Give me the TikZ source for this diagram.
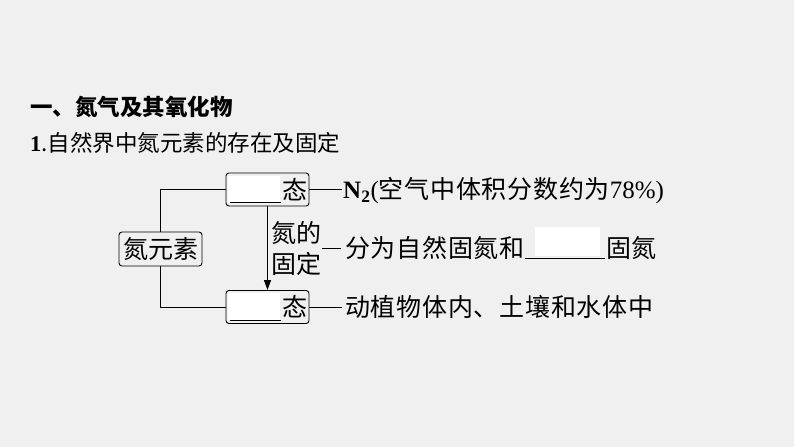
\documentclass[tikz,border=0pt]{standalone}
\usepackage{fontspec}
\setmainfont{Liberation Serif}
\newfontfamily\cjk{Noto Sans CJK SC}
\newfontfamily\cjkwide[LetterSpace=3]{Noto Sans CJK SC}
\usetikzlibrary{arrows.meta}
\definecolor{bgcol}{RGB}{240,240,240}
\tikzset{
  framebox/.style={draw, rounded corners=3pt, line width=0.9pt, minimum width=83pt, minimum height=33pt, inner sep=0pt},
  txt/.style={inner sep=0pt, font=\fontsize{25}{31}\selectfont\cjkwide},
  link/.style={line width=0.9pt},
}
\begin{document}
\begin{tikzpicture}[x=1pt,y=-1pt]
  \fill[bgcol] (0,0) rectangle (794,447);
  \useasboundingbox (0,0) rectangle (794,447);
  \node[anchor=west, inner sep=0pt, font=\fontsize{22.5}{26}\selectfont\cjk\bfseries] (title) at (30,107) {一、氮气及其氧化物};
  \node[anchor=west, inner sep=0pt, font=\fontsize{22.5}{26}\selectfont\cjk] (subtitle) at (30,143) {{\rmfamily\bfseries 1}.自然界中氮元素的存在及固定};
  \fill[white] (228,176) rectangle (280,202);
  \fill[white] (228,293) rectangle (280,320);
  \fill[white] (535,227) rectangle (600,256);
  \node[framebox] (gas) at (267.5,189.5) {};
  \node[framebox] (fixed) at (267.5,307) {};
  \node[framebox, minimum height=34pt, font=\fontsize{25}{31}\selectfont\cjk] (elem) at (160.5,249) {氮元素};
  \draw[link] (230,202) -- (281,202);
  \draw[link] (230,320) -- (281,320);
  \node[txt] (tai1) at (295,189.5) {态};
  \node[txt] (tai2) at (295,307) {态};
  \draw[link] (elem.north) |- (gas.west);
  \draw[link] (elem.south) |- (fixed.west);
  \draw[link, -{Triangle[length=10pt,width=7pt]}] (gas.south) -- (fixed.north);
  \node[txt, align=left, font=\fontsize{25}{31}\selectfont\cjk] (fix) at (296,248) {氮的\\固定};
  \node[txt, anchor=base west] (air) at (343,198.5) {{\rmfamily\bfseries N\textsubscript{2}}{\rmfamily (}空气中体积分数约为{\rmfamily 78\%)}};
  \node[txt, anchor=west] (split) at (345,248) {分为自然固氮和};
  \node[txt, anchor=west] (gudan) at (606,248) {固氮};
  \node[txt, anchor=west] (live) at (345,307) {动植物体内、土壤和水体中};
  \draw[link, shorten >=1pt] (gas.east) -- (air.west |- gas.east);
  \draw[link, shorten <=1pt, shorten >=4pt] (fix.east) -- (split.west);
  \draw[link, shorten >=3pt] (fixed.east) -- (live.west);
  \draw[link] (525,258) -- (605,258);
\end{tikzpicture}
\end{document}
